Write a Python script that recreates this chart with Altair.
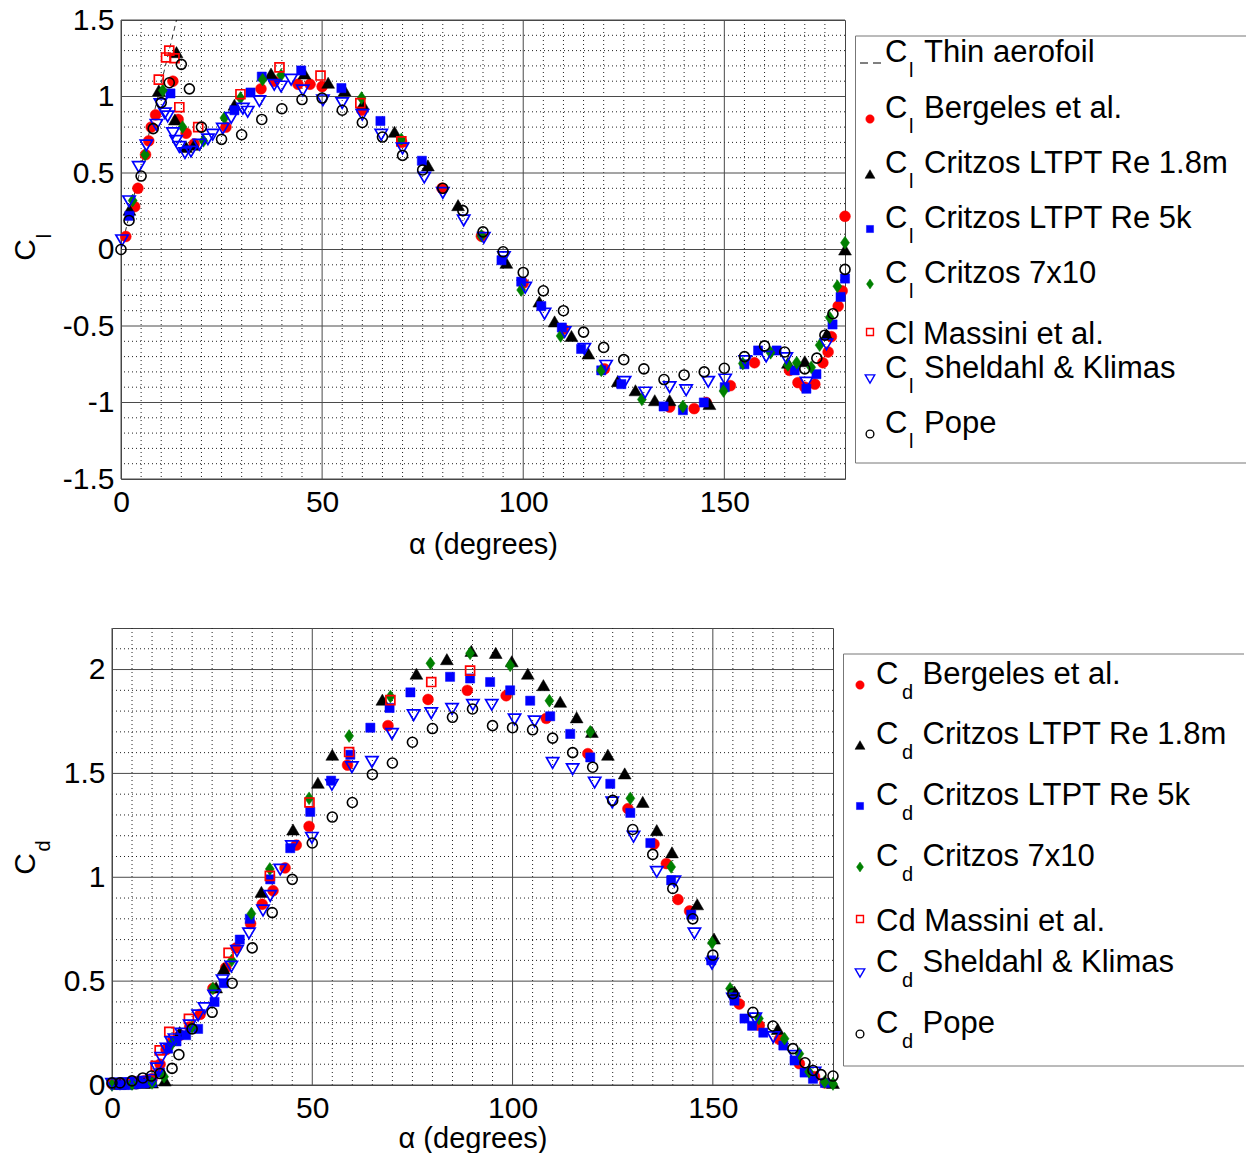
import altair as alt
import pandas as pd

FONT = "Liberation Sans"

# ---------------- Lift coefficient C_l (top panel) ----------------
thin_alpha = [0.0, 13.8]
thin_cl = [0.0, 1.5]

bergeles_cl_alpha = [1.2, 3.4, 4.2, 6.1, 6.9, 7.5, 8.6, 12.9, 14.2, 16.2, 18.2, 26.1, 34.8, 38.1, 44.0,
                     47.0, 50.0, 59.9, 69.8, 79.8, 89.6, 100.0, 110.0, 120.2, 136.4, 142.5, 145.5, 151.5,
                     157.5, 166.2, 168.3, 170.0, 172.5, 174.5, 175.8, 176.6, 178.3, 179.3, 180.0]
bergeles_cl = [0.085, 0.28, 0.40, 0.62, 0.71, 0.80, 0.88, 1.10, 0.85, 0.76, 0.69, 0.80, 1.05, 1.10, 1.08,
               1.08, 1.065, 0.91, 0.70, 0.40, 0.087, -0.22, -0.52, -0.78, -1.03, -1.04, -1.00, -0.89,
               -0.74, -0.79, -0.87, -0.90, -0.88, -0.74, -0.67, -0.57, -0.37, -0.27, 0.217]

critzos18_cl_alpha = [2.1, 9.4, 13.4, 13.8, 16.2, 18.2, 28.2, 37.3, 45.6, 51.5, 55.6, 60.1, 68.0, 76.3,
                      83.8, 95.8, 104.0, 107.8, 112.0, 116.2, 123.5, 127.9, 132.7, 136.4, 146.3, 165.8,
                      170.0, 175.4, 180.0]
critzos18_cl = [0.26, 1.04, 0.85, 1.29, 0.67, 0.685, 0.946, 1.15, 1.15, 1.09, 1.04, 0.95, 0.77, 0.55,
                0.29, -0.087, -0.34, -0.47, -0.565, -0.68, -0.86, -0.92, -0.985, -0.985, -1.01, -0.74,
                -0.73, -0.555, 0.0]

critzos5k_cl_alpha = [2.1, 12.3, 28.2, 32.2, 35.0, 44.8, 54.8, 64.5, 74.8, 94.6, 99.5, 104.5, 109.6,
                      114.4, 119.4, 124.4, 134.9, 139.7, 144.9, 150.1, 155.0, 158.4, 163.0, 167.5, 170.4,
                      172.9, 176.9, 178.9, 180.0]
critzos5k_cl = [0.22, 1.02, 0.91, 1.026, 1.13, 1.17, 1.055, 0.84, 0.58, -0.07, -0.21, -0.37, -0.51,
                -0.65, -0.79, -0.88, -1.026, -1.05, -1.00, -0.90, -0.75, -0.66, -0.66, -0.79, -0.91,
                -0.815, -0.49, -0.31, -0.19]

critzos7_cl_alpha = [2.9, 6.0, 10.4, 15.3, 20.5, 25.7, 29.7, 35.2, 39.8, 59.8, 69.7, 89.6, 99.5, 109.3,
                     119.4, 129.5, 139.7, 149.8, 154.6, 161.5, 165.8, 168.0, 171.6, 173.7, 176.2, 178.1,
                     180.0]
critzos7_cl = [0.32, 0.62, 1.04, 0.80, 0.71, 0.86, 0.99, 1.11, 1.14, 0.99, 0.72, 0.09, -0.265, -0.565,
               -0.79, -0.98, -1.026, -0.925, -0.745, -0.675, -0.755, -0.74, -0.77, -0.625, -0.445, -0.24,
               0.044]

massini_cl_alpha = [9.4, 11.2, 12.0, 13.3, 14.5, 19.2, 29.7, 39.4, 49.6, 59.5, 69.7]
massini_cl = [1.11, 1.255, 1.30, 1.25, 0.93, 0.80, 1.015, 1.19, 1.137, 0.957, 0.707]

sheldahl_cl_alpha = [0.25, 2.0, 4.4, 6.3, 8.8, 9.8, 10.9, 11.6, 12.9, 13.7, 14.5, 15.9, 17.4, 19.5, 21.6,
                     22.8, 25.3, 27.4, 30.3, 31.5, 34.4, 38.1, 39.8, 42.3, 45.2, 50.2, 55.0, 60.0, 64.7,
                     70.0, 75.4, 80.0, 85.2, 90.2, 95.2, 100.5, 105.3, 110.3, 115.2, 120.6, 125.2, 130.3,
                     136.4, 140.5, 146.0, 150.2, 155.2, 160.4, 165.4, 170.4, 175.4]
sheldahl_cl = [0.06, 0.315, 0.54, 0.68, 0.815, 0.95, 0.89, 0.87, 0.76, 0.71, 0.67, 0.63, 0.64, 0.685, 0.72,
               0.75, 0.79, 0.86, 0.92, 0.90, 0.97, 1.076, 1.065, 1.11, 1.04, 0.975, 0.957, 0.88, 0.75,
               0.66, 0.47, 0.37, 0.19, 0.076, -0.05, -0.25, -0.42, -0.54, -0.65, -0.76, -0.865, -0.935,
               -0.90, -0.92, -0.865, -0.85, -0.73, -0.70, -0.71, -0.87, -0.62]

pope_cl_alpha = [0, 2, 5, 8, 10, 12, 15, 17, 20, 25, 30, 35, 40, 45, 50, 55, 60, 65, 70, 75, 80, 85, 90,
                 95, 100, 105, 110, 115, 120, 125, 130, 135, 140, 145, 150, 155, 160, 165, 170, 173, 175,
                 177, 180]
pope_cl = [0.0, 0.19, 0.48, 0.79, 0.96, 1.09, 1.21, 1.05, 0.80, 0.72, 0.75, 0.85, 0.92, 0.98, 0.99, 0.91,
           0.83, 0.735, 0.615, 0.52, 0.40, 0.254, 0.115, -0.015, -0.15, -0.27, -0.40, -0.54, -0.64, -0.72,
           -0.78, -0.85, -0.82, -0.80, -0.776, -0.70, -0.63, -0.67, -0.78, -0.71, -0.56, -0.42, -0.13]

# ---------------- Drag coefficient C_d (bottom panel) ----------------
bergeles_cd_alpha = [0, 2, 4, 6, 8, 10, 12, 13.5, 15, 17, 19.4, 22, 25.2, 28.4, 31, 34.6, 37.5, 40.2,
                     43.2, 46, 49.2, 58.8, 68.9, 78.9, 88.7, 98.4, 108.4, 118.8, 128.8, 135.3, 138.4,
                     141.3, 144.2, 156.6, 161.6, 166.6, 171.6, 175.4, 178]
bergeles_cd = [0.005, 0.008, 0.01, 0.015, 0.02, 0.03, 0.10, 0.17, 0.21, 0.24, 0.28, 0.34, 0.465, 0.565,
               0.66, 0.777, 0.87, 0.935, 1.045, 1.155, 1.245, 1.54, 1.73, 1.856, 1.90, 1.874, 1.765,
               1.595, 1.33, 1.16, 1.066, 0.893, 0.838, 0.39, 0.287, 0.22, 0.103, 0.04, 0.01]

critzos18_cd_alpha = [2, 5, 8, 10, 13.2, 16.9, 26, 27.9, 37.3, 45.2, 51.4, 55, 67.5, 76, 83.6, 89.7, 95.8,
                      99.8, 103.8, 107.7, 111.9, 116, 119.8, 123.8, 128, 132.5, 136, 139.8, 146.1, 150.3,
                      155.4, 166.2, 180]
critzos18_cd = [0.005, 0.007, 0.01, 0.012, 0.022, 0.255, 0.47, 0.56, 0.93, 1.23, 1.455, 1.59, 1.855, 1.98,
                2.05, 2.09, 2.08, 2.04, 1.98, 1.925, 1.845, 1.77, 1.70, 1.59, 1.50, 1.363, 1.227, 1.12,
                0.87, 0.705, 0.45, 0.27, 0.01]

critzos5k_cd_alpha = [2, 4, 6, 8, 10, 12, 14, 16.1, 18.5, 21.5, 25.6, 27.9, 31.9, 34.4, 39.5, 44.5, 49.5,
                      54.7, 59.5, 64.5, 69.3, 74.5, 84.4, 89.4, 94.4, 99.4, 104.4, 109.4, 114.4, 119.4,
                      124.4, 129.4, 134.4, 139.6, 144.6, 149.6, 155.4, 157.9, 159.8, 162.6, 167.6, 170.4,
                      172.9, 175, 178]
critzos5k_cd = [0.0, 0.0, 0.005, 0.008, 0.012, 0.06, 0.175, 0.21, 0.24, 0.27, 0.40, 0.49, 0.70, 0.80,
                0.99, 1.14, 1.315, 1.465, 1.59, 1.72, 1.815, 1.89, 1.965, 1.957, 1.94, 1.90, 1.85, 1.775,
                1.69, 1.577, 1.45, 1.31, 1.165, 0.985, 0.82, 0.60, 0.406, 0.32, 0.285, 0.252, 0.19,
                0.118, 0.06, 0.03, 0.01]

critzos7_cd_alpha = [0, 5, 10, 13, 15, 20, 25.2, 29.9, 34.8, 39.4, 49.2, 59.2, 69.5, 79.5, 89.4, 99.4,
                     109.2, 119.4, 129.4, 139.6, 149.8, 154.3, 161.5, 167.9, 171.6, 174, 177.9, 180]
critzos7_cd = [0.0, 0.005, 0.01, 0.04, 0.2, 0.28, 0.465, 0.6, 0.825, 1.04, 1.38, 1.68, 1.87, 2.03, 2.078,
               2.02, 1.85, 1.70, 1.38, 1.05, 0.685, 0.464, 0.32, 0.223, 0.15, 0.064, 0.015, 0.005]

massini_cd_alpha = [10.9, 11.9, 14.3, 19.2, 29.1, 39.4, 49.3, 59.2, 69.5, 79.7, 89.4]
massini_cd = [0.092, 0.167, 0.256, 0.318, 0.636, 1.007, 1.36, 1.603, 1.853, 1.94, 1.995]

sheldahl_cd_alpha = [0, 2, 4, 6, 8, 10, 11.2, 12.3, 13.6, 14.8, 15.6, 17.3, 19.4, 21.5, 23.1, 25.5, 27.6,
                     29.8, 31.2, 34.2, 37.7, 39.5, 42, 44.9, 49.9, 54.9, 59.9, 64.9, 69.9, 75.3, 79.7,
                     84.9, 90.1, 94.8, 100.5, 105.5, 110, 115, 120.5, 124.9, 130.2, 136, 140.4, 145.4,
                     149.8, 155, 160.6, 165.1, 170.4, 175.4]
sheldahl_cd = [0.005, 0.006, 0.008, 0.01, 0.015, 0.025, 0.08, 0.13, 0.175, 0.206, 0.22, 0.247, 0.287,
               0.335, 0.37, 0.43, 0.504, 0.57, 0.645, 0.73, 0.84, 0.91, 1.037, 1.15, 1.19, 1.445, 1.53,
               1.555, 1.69, 1.78, 1.79, 1.81, 1.83, 1.83, 1.76, 1.75, 1.55, 1.52, 1.456, 1.36, 1.195,
               1.026, 0.98, 0.73, 0.584, 0.416, 0.32, 0.23, 0.14, 0.06]

pope_cd_alpha = [0, 2, 5, 7.7, 9.8, 12, 15, 16.7, 20, 25, 30, 35, 40, 45, 50, 55, 60, 65, 70, 75, 80, 85,
                 90, 95, 100, 105, 110, 115, 120, 125, 130, 135, 140, 145, 150, 155, 160, 165, 170, 173,
                 175, 177, 180]
pope_cd = [0.01, 0.01, 0.02, 0.034, 0.043, 0.055, 0.08, 0.146, 0.27, 0.35, 0.49, 0.66, 0.83, 0.99, 1.165,
           1.29, 1.36, 1.495, 1.55, 1.65, 1.716, 1.77, 1.81, 1.73, 1.72, 1.71, 1.67, 1.60, 1.53, 1.37,
           1.23, 1.11, 0.946, 0.80, 0.625, 0.44, 0.35, 0.284, 0.175, 0.107, 0.07, 0.05, 0.043]

# ---------------- ticks and legend texts ----------------
x_ticks = [0, 50, 100, 150]
cl_ticks = [-1.5, -1, -0.5, 0, 0.5, 1, 1.5]
cd_ticks = [0, 0.5, 1, 1.5, 2]
x_minor = [v for v in range(5, 180, 5) if v % 50]
cl_minor = [round(-1.4 + 0.1 * i, 1) for i in range(29)]
cl_minor = [v for v in cl_minor if abs(v * 2 - round(v * 2)) > 1e-6]
cd_minor = [round(0.1 * i, 1) for i in range(1, 22)]
cd_minor = [v for v in cd_minor if abs(v * 2 - round(v * 2)) > 1e-6]

top_keys = ["thin", "bergeles", "critzos18", "critzos5k", "critzos7", "massini", "sheldahl", "pope"]
top_labels = ["Thin aerofoil", "Bergeles et al.", "Critzos LTPT Re 1.8m", "Critzos LTPT Re 5k",
              "Critzos 7x10", "Cl Massini et al.", "Sheldahl & Klimas", "Pope"]
bot_keys = ["bergeles", "critzos18", "critzos5k", "critzos7", "massini", "sheldahl", "pope"]
bot_labels = ["Bergeles et al.", "Critzos LTPT Re 1.8m", "Critzos LTPT Re 5k", "Critzos 7x10",
              "Cd Massini et al.", "Sheldahl & Klimas", "Pope"]

DIAMOND = "M0,-1L0.7,0L0,1L-0.7,0Z"
STYLE = {
    "bergeles": dict(shape="circle", filled=True, fill="#ff0000", stroke="#ff0000", strokeWidth=0.5, size=118),
    "critzos18": dict(shape="triangle-up", filled=True, fill="#000000", stroke="#000000", strokeWidth=0.5, size=165),
    "critzos5k": dict(shape="square", filled=True, fill="#0000ff", stroke="#0000ff", strokeWidth=0.5, size=84),
    "critzos7": dict(shape=DIAMOND, filled=True, fill="#008000", stroke="#008000", strokeWidth=0.5, size=165),
    "massini": dict(shape="square", filled=False, color="#ff0000", strokeWidth=1.7, size=80),
    "sheldahl": dict(shape="triangle-down", filled=False, color="#0000ff", strokeWidth=1.7, size=150),
    "pope": dict(shape="circle", filled=False, color="#000000", strokeWidth=1.6, size=100),
}


def small(style, f=0.6):
    s = dict(style)
    s["size"] = style["size"] * f
    if not style["filled"]:
        s["strokeWidth"] = 1.4
    return s


def build_plot(series, y_ticks, y_minor, y_domain, width, height, sub, title_pos, tpad, thin=None):
    xs = alt.Scale(domain=[0, 180], nice=False, zero=False)
    ys = alt.Scale(domain=y_domain, nice=False, zero=False)
    xaxis = alt.Axis(values=x_ticks, labelExpr="'' + datum.value", grid=False, domain=False, ticks=False,
                     labelFlush=False, labelOverlap=False, labelFont=FONT, labelFontSize=30,
                     labelColor="#000", labelPadding=8, title="α (degrees)", titleFont=FONT,
                     titleFontSize=29, titleFontWeight="normal", titleColor="#000", titlePadding=tpad)
    yaxis = alt.Axis(values=y_ticks, labelExpr="'' + datum.value", grid=False, domain=False, ticks=False,
                     labelFlush=False, labelOverlap=False, labelFont=FONT, labelFontSize=30,
                     labelColor="#000", labelPadding=7, title=None)
    X = lambda f: alt.X(f"{f}:Q", scale=xs, axis=xaxis)
    Y = lambda f: alt.Y(f"{f}:Q", scale=ys, axis=yaxis)
    layers = [
        alt.Chart(pd.DataFrame({"v": x_minor})).mark_rule(color="#222", strokeWidth=1, strokeDash=[1, 3]).encode(x=X("v")),
        alt.Chart(pd.DataFrame({"v": y_minor})).mark_rule(color="#222", strokeWidth=1, strokeDash=[1, 3]).encode(y=Y("v")),
        alt.Chart(pd.DataFrame({"v": x_ticks})).mark_rule(color="#4a4a4a", strokeWidth=1).encode(x=X("v")),
        alt.Chart(pd.DataFrame({"v": y_ticks})).mark_rule(color="#4a4a4a", strokeWidth=1).encode(y=Y("v")),
    ]
    if thin is not None:
        layers.append(alt.Chart(pd.DataFrame({"alpha": thin[0], "val": thin[1]})).mark_line(
            color="#000", strokeWidth=0.8, strokeDash=[5, 4], clip=True).encode(x=X("alpha"), y=Y("val")))
    for key, a, v in series:
        df = pd.DataFrame({"alpha": a, "val": v})
        layers.append(alt.Chart(df).mark_point(opacity=1, **STYLE[key]).encode(x=X("alpha"), y=Y("val")))
    (cx, cy), (sx, sy) = title_pos
    layers.append(alt.Chart(pd.DataFrame({"t": ["C"]})).mark_text(
        font=FONT, fontSize=30, angle=270, align="center", baseline="middle", color="#000").encode(
        text="t:N", x=alt.value(cx), y=alt.value(cy)))
    layers.append(alt.Chart(pd.DataFrame({"t": [sub]})).mark_text(
        font=FONT, fontSize=20, angle=270, align="center", baseline="middle", color="#000").encode(
        text="t:N", x=alt.value(sx), y=alt.value(sy)))
    return alt.layer(*layers).properties(width=width, height=height,
                                         view=alt.ViewBackground(stroke="#444", strokeWidth=1))


def build_legend(keys, labels, sub, width, height, box, base0, steps, mx, cx, sx, lx):
    bx, btop, bbot = box
    layers = [
        alt.Chart(pd.DataFrame({"y": [btop, bbot]})).mark_rule(color="#777", strokeWidth=1).encode(
            x=alt.value(bx), x2=alt.value(width), y=alt.Y("y:Q", scale=None)),
        alt.Chart(pd.DataFrame({"y": [btop]})).mark_rule(color="#777", strokeWidth=1).encode(
            x=alt.value(bx), y=alt.Y("y:Q", scale=None), y2=alt.value(bbot)),
    ]
    bases = [base0]
    for s in steps:
        bases.append(bases[-1] + s)
    rows = []
    for key, lab, b in zip(keys, labels, bases):
        plain = lab.startswith("C" + sub + " ")
        my = b - 12 if plain else b + 1
        if key == "thin":
            layers.append(alt.Chart(pd.DataFrame({"y": [my]})).mark_rule(
                color="#000", strokeWidth=1, strokeDash=[8, 5]).encode(
                x=alt.value(mx - 10), x2=alt.value(mx + 11), y=alt.Y("y:Q", scale=None)))
        else:
            layers.append(alt.Chart(pd.DataFrame({"y": [my]})).mark_point(opacity=1, **small(STYLE[key])).encode(
                x=alt.value(mx), y=alt.Y("y:Q", scale=None)))
        if plain:
            rows.append({"t": lab, "x": cx, "y": b, "s": 31})
        else:
            rows.append({"t": "C", "x": cx, "y": b, "s": 31})
            rows.append({"t": sub, "x": sx, "y": b + 15, "s": 20})
            rows.append({"t": lab, "x": lx, "y": b, "s": 31})
    layers.append(alt.Chart(pd.DataFrame(rows)).mark_text(
        font=FONT, align="left", baseline="alphabetic", color="#000").encode(
        text="t:N", x=alt.X("x:Q", scale=None), y=alt.Y("y:Q", scale=None),
        size=alt.Size("s:Q", scale=None, legend=None)))
    return alt.layer(*layers).properties(width=width, height=height)


def spacer():
    return alt.Chart(pd.DataFrame({"a": [0]})).mark_point(opacity=0, size=1).encode(
        x=alt.value(0), y=alt.value(0)).properties(width=1, height=1)


top_series = [("bergeles", bergeles_cl_alpha, bergeles_cl), ("critzos18", critzos18_cl_alpha, critzos18_cl),
              ("critzos5k", critzos5k_cl_alpha, critzos5k_cl), ("critzos7", critzos7_cl_alpha, critzos7_cl),
              ("massini", massini_cl_alpha, massini_cl), ("sheldahl", sheldahl_cl_alpha, sheldahl_cl),
              ("pope", pope_cl_alpha, pope_cl)]
bot_series = [("bergeles", bergeles_cd_alpha, bergeles_cd), ("critzos18", critzos18_cd_alpha, critzos18_cd),
              ("critzos5k", critzos5k_cd_alpha, critzos5k_cd), ("critzos7", critzos7_cd_alpha, critzos7_cd),
              ("massini", massini_cd_alpha, massini_cd), ("sheldahl", sheldahl_cd_alpha, sheldahl_cd),
              ("pope", pope_cd_alpha, pope_cd)]

top_plot = build_plot(top_series, cl_ticks, cl_minor, [-1.5, 1.5], 724, 459, "l",
                      ((-95, 230), (-76, 216)), 13, thin=(thin_alpha, thin_cl))
bot_plot = build_plot(bot_series, cd_ticks, cd_minor, [0, 2.2], 721, 457, "d",
                      ((-86, 236), (-68, 218)), 1)

top_leg = build_legend(top_keys, top_labels, "l", 391, 459, (0.5, 16, 443), 42,
                       [56, 55, 55, 55, 61, 34, 55], 15, 30, 54, 69)
bot_leg = build_legend(bot_keys, bot_labels, "d", 401, 457, (0.5, 26, 438), 56,
                       [60, 61, 61, 65, 41, 61], 17, 33, 59, 79.5)

top_row = alt.hconcat(alt.hconcat(spacer(), top_plot, spacing=0), top_leg, spacing=0)
bot_row = alt.hconcat(alt.hconcat(spacer(), bot_plot, spacing=0), bot_leg, spacing=0)

chart = alt.vconcat(top_row, bot_row, spacing=67).properties(
    padding={"left": -1, "top": -4, "right": 0, "bottom": -1}).configure_view(stroke="transparent")

chart.save("out.html", embed_options={"renderer": "svg", "actions": False})
